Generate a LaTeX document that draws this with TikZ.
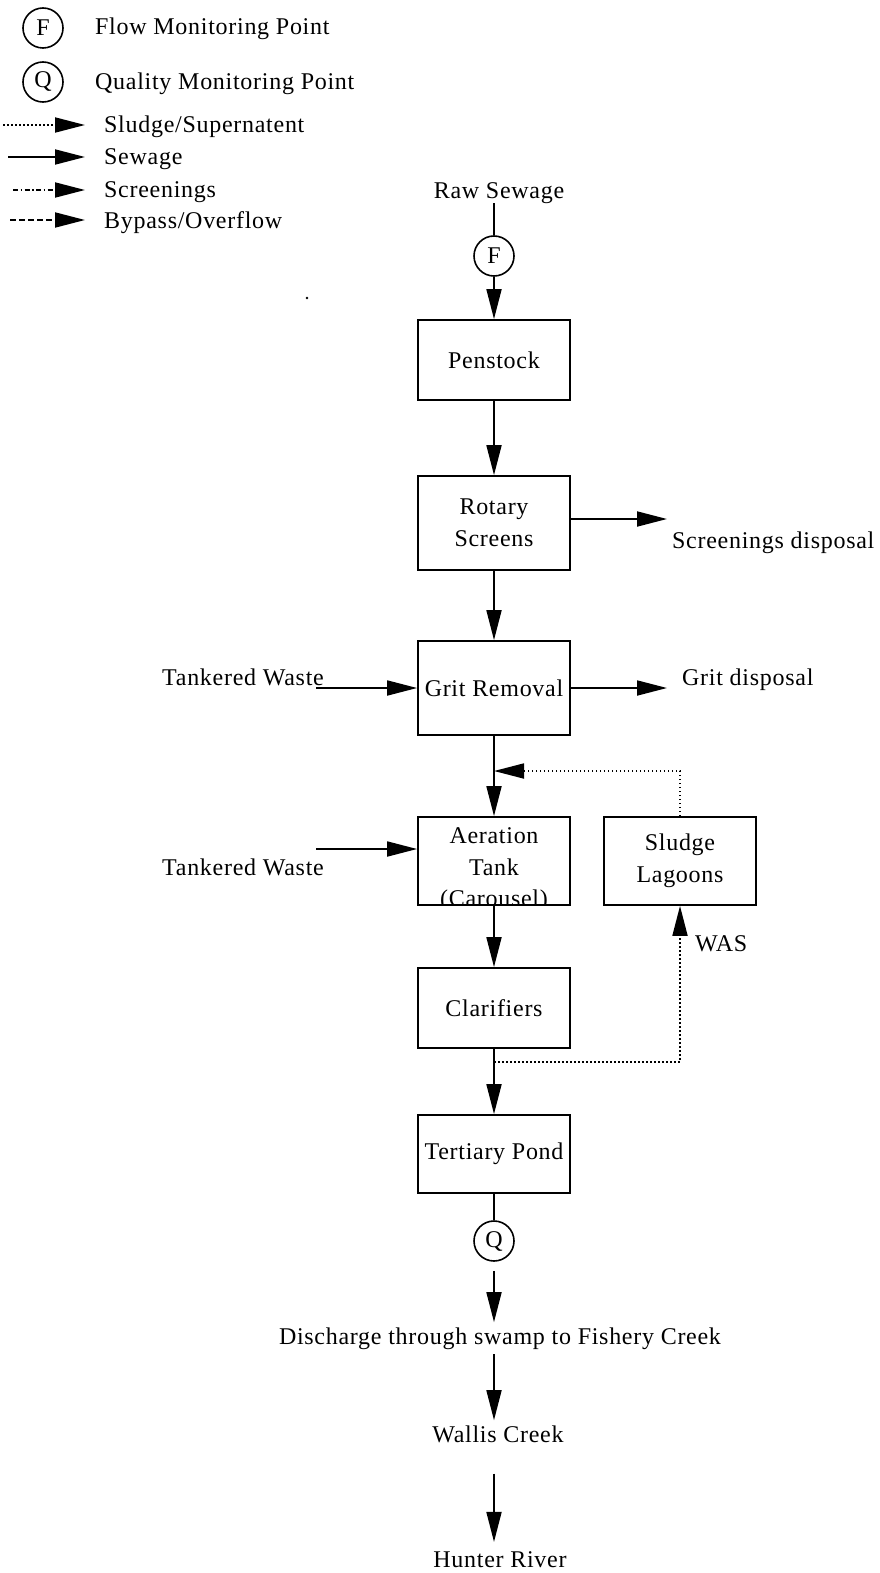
\documentclass[tikz,border=0pt]{standalone}
\usepackage{fontspec}
\setmainfont[LetterSpace=3]{Liberation Serif}
\usetikzlibrary{arrows.meta}
\tikzset{
  plain/.style={line width=1.8pt},
  flow/.style={plain,-{Triangle[length=30pt,width=15pt]}},
  sludge/.style={flow,dash pattern=on 1.6pt off 2.4pt},
  screen/.style={flow,dash pattern=on 5pt off 2.5pt on 1.5pt off 2.5pt},
  bypass/.style={flow,dash pattern=on 6pt off 3pt},
  box/.style={draw,plain,minimum width=152pt,inner sep=0pt,align=center},
  mon/.style={draw,circle,line width=1.6pt,minimum size=40pt,inner sep=0pt},
  lbl/.style={inner sep=0pt,anchor=base west},
  ctr/.style={inner sep=0pt,anchor=base}
}
\begin{document}
\begin{tikzpicture}[x=1pt,y=-1pt,font=\fontsize{24}{31.5}\selectfont]
\useasboundingbox (0,0) rectangle (880,1573);
% legend
\node[mon] (lf) at (43,28) {F};
\node[lbl] (lft) at (95,35) {Flow Monitoring Point};
\node[mon] (lq) at (43,82) {Q};
\node[lbl] (lqt) at (95,90) {Quality Monitoring Point};
\coordinate (l1) at (3,125);
\coordinate (l2) at (8,157);
\coordinate (l3) at (13,190);
\coordinate (l4) at (10,220);
\node[lbl] (t1) at (104,133) {Sludge/Supernatent};
\node[lbl] (t2) at (104,165) {Sewage};
\node[lbl] (t3) at (104,197) {Screenings};
\node[lbl] (t4) at (104,228) {Bypass/Overflow};
\draw[sludge] (l1) -- (l1 -| 85,0);
\draw[flow] (l2) -- (l2 -| 85,0);
\draw[screen] (l3) -- (l3 -| 85,0);
\draw[bypass] (l4) -- (l4 -| 85,0);
\fill (307,298) circle (1.3);

% main column
\node[ctr] (raw) at (499,198) {Raw Sewage};
\node[mon] (fm) at (494,256) {F};
\node[box,minimum height=80pt] (pen) at (494,360) {Penstock};
\node[box,minimum height=94pt] (rot) at (494,523) {Rotary\\Screens};
\node[box,minimum height=94pt] (grit) at (494,688) {Grit Removal};
\node[box,minimum height=88pt] (aer) at (494,861) {};
\begin{scope}
  \clip (aer.north west) rectangle (aer.south east);
  \node[inner sep=0pt,align=center] (aert) at (494,870) {Aeration\\Tank\\(Carousel)};
\end{scope}
\node[box,minimum height=88pt] (sl) at (680,861) {Sludge\\Lagoons};
\node[box,minimum height=80pt] (cla) at (494,1008) {Clarifiers};
\node[box,minimum height=78pt] (ter) at (494,1154) {Tertiary Pond};
\node[mon] (qm) at (494,1241) {Q};
\node[ctr] (dis) at (500,1344) {Discharge through swamp to Fishery Creek};
\node[ctr] (wal) at (498,1442) {Wallis Creek};
\node[ctr] (hun) at (500,1567) {Hunter River};

% side labels
\node[lbl] (scr) at (672,548) {Screenings disposal};
\node[lbl] (gd) at (682,685) {Grit disposal};
\node[ctr] (tw1) at (243,685) {Tankered Waste};
\node[ctr] (tw2) at (243,875) {Tankered Waste};
\node[lbl] (was) at (695,951) {WAS};
\coordinate (sd) at (667,519);
\coordinate (gdt) at (667,688);
\coordinate (tw1e) at (316,688);
\coordinate (tw2e) at (316,849);
\coordinate (ret) at (494,771);
\coordinate (wasb) at (494,1062);

% connectors
\draw[plain] (raw.south -| fm) -- (fm.north);
\draw[flow] (fm.south) -- (pen.north);
\draw[flow] (pen.south) -- (rot.north);
\draw[flow] (rot.south) -- (grit.north);
\draw[flow] (grit.south) -- (aer.north);
\draw[flow] (aer.south) -- (cla.north);
\draw[flow] (cla.south) -- (ter.north);
\draw[plain] (ter.south) -- (qm.north);
\draw[flow,shorten <=9pt,shorten >=5pt] (qm.south) -- (qm.south |- dis.north);
\draw[flow,shorten <=5pt,shorten >=5pt] (dis.south -| qm) -- (qm.south |- wal.north);
\draw[flow,shorten <=31pt,shorten >=9pt] (wal.south -| qm) -- (qm.south |- hun.north);
\draw[flow] (rot.east |- sd) -- (sd);
\draw[flow] (grit.east) -- (gdt);
\draw[flow] (tw1e) -- (grit.west);
\draw[flow] (tw2e) -- (aer.west |- tw2e);
\draw[sludge] (sl.north) |- (ret);
\draw[sludge] (wasb) -| (sl.south);
\end{tikzpicture}
\end{document}
